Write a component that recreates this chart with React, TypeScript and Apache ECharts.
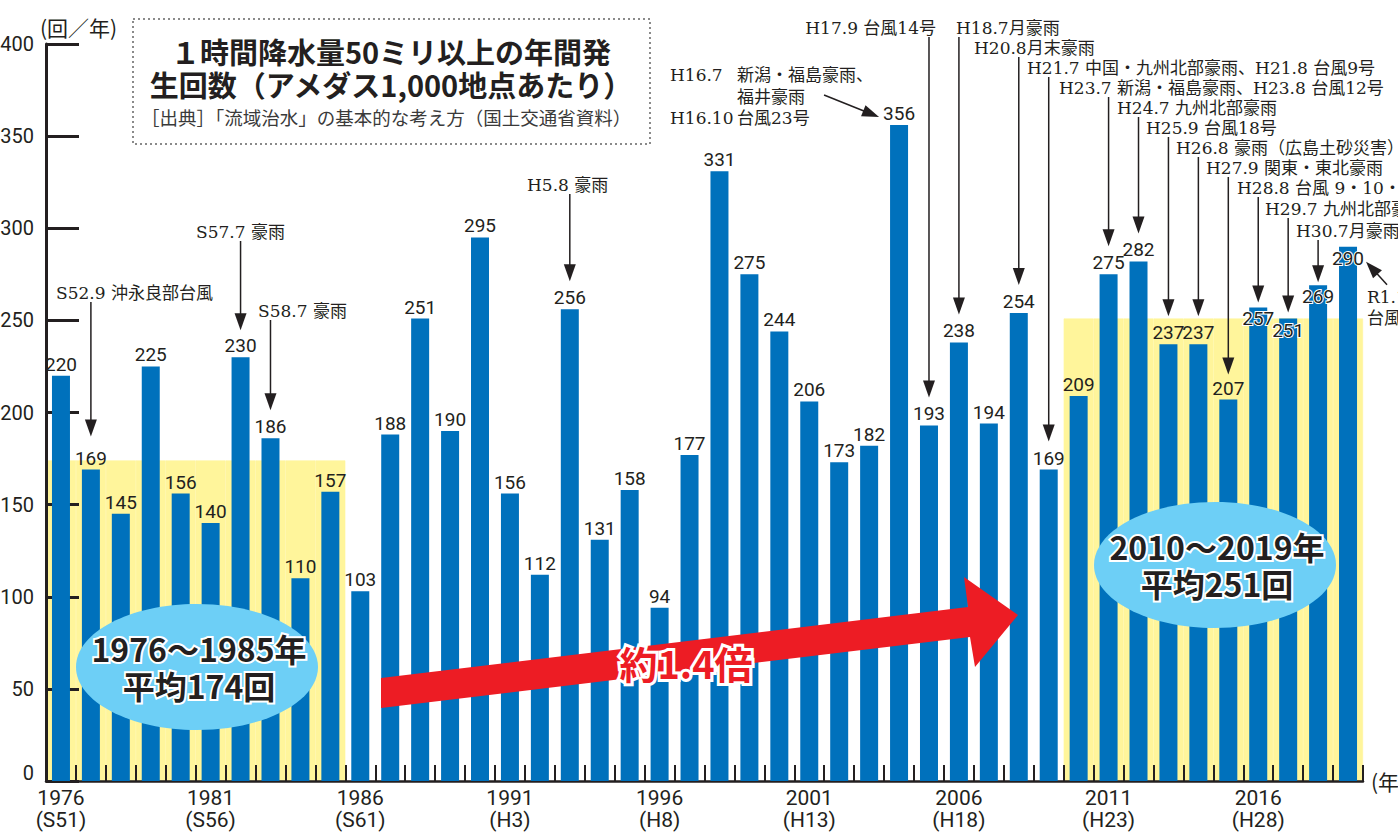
import React, { useEffect, useRef } from "react";
import * as echarts from "echarts";

// ---------------- DATA ----------------
const years = [
  "1976", "1977", "1978", "1979", "1980", "1981", "1982", "1983", "1984", "1985",
  "1986", "1987", "1988", "1989", "1990", "1991", "1992", "1993", "1994", "1995",
  "1996", "1997", "1998", "1999", "2000", "2001", "2002", "2003", "2004", "2005",
  "2006", "2007", "2008", "2009", "2010", "2011", "2012", "2013", "2014", "2015",
  "2016", "2017", "2018", "2019",
];
const counts = [
  220, 169, 145, 225, 156, 140, 230, 186, 110, 157,
  103, 188, 251, 190, 295, 156, 112, 256, 131, 158,
  94, 177, 331, 275, 244, 206, 173, 182, 356, 193,
  238, 194, 254, 169, 209, 275, 282, 237, 237, 207,
  257, 251, 269, 290,
];
const eraLabels: Record<string, string> = {
  "1976": "S51", "1981": "S56", "1986": "S61", "1991": "H3", "1996": "H8",
  "2001": "H13", "2006": "H18", "2011": "H23", "2016": "H28",
};
const periodEarlyYears = ["1976", "1977", "1978", "1979", "1980", "1981", "1982", "1983", "1984", "1985"];
const periodEarlyAvg = 174;
const periodLateYears = ["2010", "2011", "2012", "2013", "2014", "2015", "2016", "2017", "2018", "2019"];
const periodLateAvg = 251;
const periodEarlyText = ["1976〜1985年", "平均174回"];
const periodLateText = ["2010〜2019年", "平均251回"];
const ratioText = "約1.4倍";
const insideLabelYears = ["2016", "2017", "2018", "2019"];
const yMin = 0, yMax = 400, yStep = 50;
const titleLines = ["１時間降水量50ミリ以上の年間発", "生回数（アメダス1,000地点あたり）"];
const sourceText = "［出典］「流域治水」の基本的な考え方（国土交通省資料）";
const yUnit = "(回／年)";
const xUnit = "(年)";

const annotationYears = [
  "1977", "1982", "1983", "1993", "2004", "2005", "2006", "2008", "2009",
  "2011", "2012", "2013", "2014", "2015", "2016", "2017", "2018", "2019",
];
const annotationTexts: string[][] = [
  ["S52.9 沖永良部台風"],
  ["S57.7 豪雨"],
  ["S58.7 豪雨"],
  ["H5.8 豪雨"],
  ["H16.7", "新潟・福島豪雨、", "福井豪雨", "H16.10", "台風23号"],
  ["H17.9 台風14号"],
  ["H18.7月豪雨"],
  ["H20.8月末豪雨"],
  ["H21.7 中国・九州北部豪雨、H21.8 台風9号"],
  ["H23.7 新潟・福島豪雨、H23.8 台風12号"],
  ["H24.7 九州北部豪雨"],
  ["H25.9 台風18号"],
  ["H26.8 豪雨（広島土砂災害）"],
  ["H27.9 関東・東北豪雨"],
  ["H28.8 台風 9・10・11号"],
  ["H29.7 九州北部豪雨"],
  ["H30.7月豪雨"],
  ["R1.10", "台風19号"],
];

// ---------------- LAYOUT (pixels) ----------------
type Arrow =
  | { kind: "v"; startY: number; gap: number }
  | { kind: "d"; from: [number, number]; to: [number, number] };
const annotationLayout: { pos: [number, number, string][]; arrow: Arrow }[] = [
  { pos: [[56, 293, "left"]], arrow: { kind: "v", startY: 302, gap: 33 } },
  { pos: [[196, 232, "left"]], arrow: { kind: "v", startY: 241, gap: 27 } },
  { pos: [[258, 311, "left"]], arrow: { kind: "v", startY: 320, gap: 28 } },
  { pos: [[527, 185, "left"]], arrow: { kind: "v", startY: 194, gap: 28 } },
  {
    pos: [[670, 75, "left"], [737, 75, "left"], [737, 97, "left"], [670, 118, "left"], [737, 118, "left"]],
    arrow: { kind: "d", from: [-75, -30], to: [-20, -8] },
  },
  { pos: [[936, 28, "right"]], arrow: { kind: "v", startY: 37, gap: 28 } },
  { pos: [[956, 28, "left"]], arrow: { kind: "v", startY: 37, gap: 28 } },
  { pos: [[974, 48, "left"]], arrow: { kind: "v", startY: 57, gap: 28 } },
  { pos: [[1027, 68, "left"]], arrow: { kind: "v", startY: 77, gap: 28 } },
  { pos: [[1059, 88, "left"]], arrow: { kind: "v", startY: 97, gap: 28 } },
  { pos: [[1117, 108, "left"]], arrow: { kind: "v", startY: 117, gap: 28 } },
  { pos: [[1146, 128, "left"]], arrow: { kind: "v", startY: 137, gap: 28 } },
  { pos: [[1176, 148, "left"]], arrow: { kind: "v", startY: 157, gap: 28 } },
  { pos: [[1206, 168, "left"]], arrow: { kind: "v", startY: 177, gap: 25 } },
  { pos: [[1237, 188, "left"]], arrow: { kind: "v", startY: 197, gap: 5 } },
  { pos: [[1265, 209, "left"]], arrow: { kind: "v", startY: 218, gap: 6 } },
  { pos: [[1296, 231, "left"]], arrow: { kind: "v", startY: 240, gap: 3 } },
  { pos: [[1367, 297, "left"], [1367, 318, "left"]], arrow: { kind: "d", from: [39, 38], to: [18, 15] } },
];

const NUM_FONT = "'Liberation Sans Narrow', Roboto, sans-serif";
const ANN_FONT = "'DejaVu Serif', 'Noto Sans CJK JP', serif";
const JP_FONT = "'Noto Sans CJK JP', 'Noto Sans', sans-serif";
const INK = "#231f20";
const BLUE = "#0071BC";
const YELLOW = "#FFF59B";
const OVAL = "#6DCFF6";
const RED = "#ED1C24";

export default function App() {
  const ref = useRef<HTMLDivElement>(null);

  useEffect(() => {
    document.body.style.margin = "0";
    const chart = echarts.init(ref.current!, null, { renderer: "svg" });

    const bgData = years.map((y) =>
      periodEarlyYears.includes(y) ? periodEarlyAvg : periodLateYears.includes(y) ? periodLateAvg : null
    );
    const barData = counts.map((v, i) =>
      insideLabelYears.includes(years[i])
        ? {
            value: v,
            label: { position: "insideTop", distance: 2, textBorderColor: "#fff", textBorderWidth: 2 },
          }
        : v
    );

    chart.setOption({
      animation: false,
      grid: {
        left: 46, right: 35, top: 44, bottom: 51,
        containLabel: false, outerBoundsMode: "none",
      },
      xAxis: [
        {
          type: "category",
          data: years,
          boundaryGap: true,
          axisLine: { lineStyle: { color: INK, width: 2.5 } },
          axisTick: { show: true, inside: true, length: 16, interval: 0, lineStyle: { color: INK, width: 2 } },
          axisLabel: {
            interval: 4,
            formatter: (v: string) => `${v}\n(${eraLabels[v] ?? ""})`,
            fontSize: 21,
            lineHeight: 22,
            margin: 6,
            color: INK,
            fontFamily: NUM_FONT,
          },
          splitLine: { show: false },
          name: xUnit,
          nameLocation: "end",
          nameGap: 8,
          nameTextStyle: { fontSize: 21, color: INK, fontFamily: JP_FONT, padding: [0, 0, 18, 0] },
        },
        { type: "category", data: years, show: false, boundaryGap: true },
      ],
      yAxis: {
        type: "value",
        min: yMin,
        max: yMax,
        interval: yStep,
        axisLine: { show: true, lineStyle: { color: INK, width: 3 } },
        axisTick: { show: true, inside: true, length: 33, lineStyle: { color: INK, width: 3 } },
        splitLine: { show: false },
        axisLabel: {
          fontSize: 20, color: INK, fontFamily: NUM_FONT, margin: 12,
          formatter: (v: number) => (v === 0 ? `{zero|${v}}` : `${v}`),
          rich: { zero: { fontSize: 20, color: INK, fontFamily: NUM_FONT, padding: [0, 0, 16, 0] } },
        },
      },
      series: [
        {
          type: "bar",
          xAxisIndex: 1,
          data: bgData,
          barWidth: "100%",
          itemStyle: { color: YELLOW, borderColor: YELLOW, borderWidth: 0.6 },
          z: -1,
          silent: true,
        },
        {
          type: "bar",
          xAxisIndex: 0,
          data: barData,
          barWidth: 18,
          itemStyle: { color: BLUE },
          z: 3,
          label: {
            show: true,
            position: "top",
            distance: 2,
            fontSize: 19,
            color: INK,
            fontFamily: NUM_FONT,
          },
        },
      ],
    });

    const g: any[] = [];
    // title box
    g.push({
      type: "rect",
      z: 10,
      shape: { x: 133, y: 19, width: 517, height: 125 },
      style: { fill: "#fff", stroke: "#8a8a8a", lineWidth: 2, lineDash: [2, 3] },
    });
    titleLines.forEach((t, i) => {
      g.push({
        type: "text",
        z: 11,
        x: 391,
        y: 51 + i * 33,
        style: {
          text: t, fill: INK, fontSize: 29, fontWeight: "bold", fontFamily: JP_FONT,
          align: "center", verticalAlign: "middle", lineHeight: 30,
        },
      });
    });
    g.push({
      type: "text",
      z: 11,
      x: 386,
      y: 117,
      style: {
        text: sourceText, fill: "#3a3a3a", fontSize: 18.5, fontFamily: JP_FONT,
        align: "center", verticalAlign: "middle",
      },
    });
    g.push({
      type: "text",
      z: 11,
      x: 40,
      y: 27,
      style: { text: yUnit, fill: INK, fontSize: 21, fontFamily: JP_FONT, align: "left", verticalAlign: "middle" },
    });

    // annotations
    annotationYears.forEach((yr, i) => {
      const idx = years.indexOf(yr);
      const p = chart.convertToPixel({ seriesIndex: 1 }, [idx, counts[idx]]) as number[];
      const bx = p[0];
      const top = p[1];
      const L = annotationLayout[i];
      annotationTexts[i].forEach((t, j) => {
        const [x, y, align] = L.pos[j];
        g.push({
          type: "text",
          z: 12,
          x,
          y,
          style: { text: t, fill: INK, fontSize: 17, fontFamily: ANN_FONT, align, verticalAlign: "middle", lineHeight: 19 },
        });
      });
      let fx: number, fy: number, tx: number, ty: number;
      if (L.arrow.kind === "v") {
        fx = bx; fy = L.arrow.startY; tx = bx; ty = top - L.arrow.gap;
      } else {
        fx = bx + L.arrow.from[0]; fy = top + L.arrow.from[1];
        tx = bx + L.arrow.to[0]; ty = top + L.arrow.to[1];
      }
      const len = Math.hypot(tx - fx, ty - fy);
      const ux = (tx - fx) / len, uy = (ty - fy) / len;
      const hl = 17, hw = 6;
      const baseX = tx - ux * hl, baseY = ty - uy * hl;
      g.push({
        type: "line",
        z: 12,
        shape: { x1: fx, y1: fy, x2: baseX + ux * 2, y2: baseY + uy * 2 },
        style: { stroke: INK, lineWidth: 1.5 },
      });
      g.push({
        type: "polygon",
        z: 12,
        shape: {
          points: [
            [tx, ty],
            [baseX - uy * hw, baseY + ux * hw],
            [baseX + uy * hw, baseY - ux * hw],
          ],
        },
        style: { fill: INK },
      });
    });

    // ovals
    const ovals: [number, number, string[]][] = [
      [197, 667, periodEarlyText],
      [1215, 565, periodLateText],
    ];
    ovals.forEach(([cx, cy, lines]) => {
      g.push({ type: "ellipse", z: 20, shape: { cx, cy, rx: 121, ry: 63 }, style: { fill: OVAL } });
      lines.forEach((t, j) => {
        g.push({
          type: "text",
          z: 21,
          x: cx + 2,
          y: cy - 19 + j * 37,
          style: {
            text: t, fill: INK, stroke: "#fff", lineWidth: 4, strokeFirst: true,
            fontSize: 32, fontWeight: "bold", fontFamily: JP_FONT, align: "center", verticalAlign: "middle",
            lineHeight: 34,
          },
        });
      });
    });

    // red arrow
    g.push({
      type: "polygon",
      z: 20,
      shape: {
        points: [
          [381, 678], [968, 607], [964, 577], [1018, 615], [975, 667], [970, 637], [381, 708],
        ],
      },
      style: { fill: RED },
    });
    g.push({
      type: "text",
      z: 21,
      x: 686,
      y: 662,
      style: {
        text: ratioText, fill: RED, stroke: "#fff", lineWidth: 6, strokeFirst: true,
        fontSize: 38, fontWeight: "bold", fontFamily: JP_FONT, align: "center", verticalAlign: "middle",
      },
    });

    chart.setOption({ graphic: g });

    return () => chart.dispose();
  }, []);

  return <div ref={ref} style={{ width: 1398, height: 832, overflow: "hidden" }} />;
}
